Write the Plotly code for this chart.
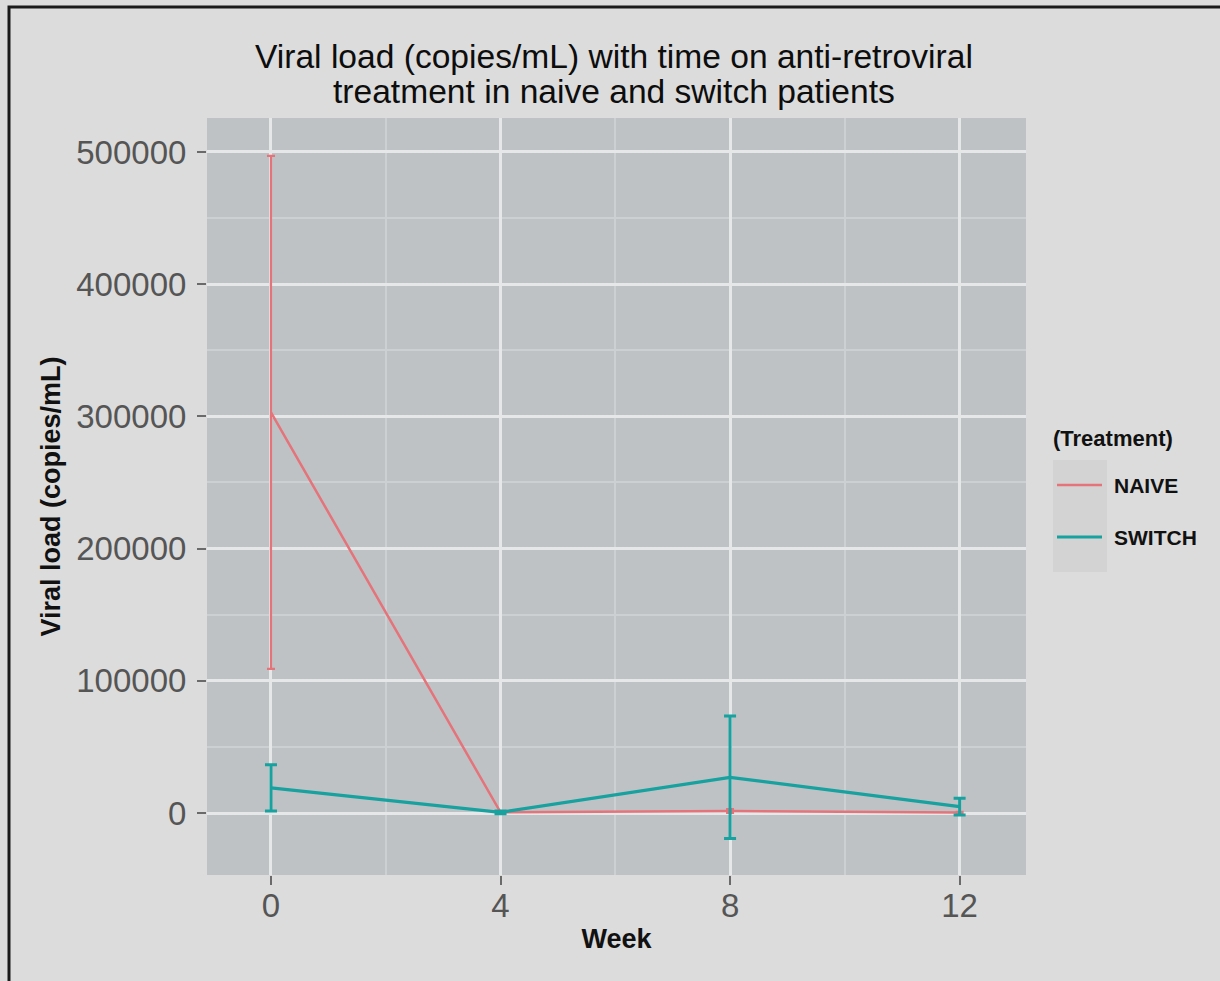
import plotly.graph_objects as go

# ---- data ----
weeks = [0, 4, 8, 12]
naive_mean = [303000, 500, 1500, 300]
naive_err = [194000, 800, 1500, 600]
switch_mean = [19000, 500, 27000, 4800]
switch_err = [17500, 1000, 46300, 6300]

series_names = ["NAIVE", "SWITCH"]
series_colors = ["#e5737a", "#17a19f"]

y_tickvals = [0, 100000, 200000, 300000, 400000, 500000]
x_tickvals = [0, 4, 8, 12]

title_lines = ["Viral load (copies/mL) with time on anti-retroviral",
               "treatment in naive and switch patients"]
x_title = "Week"
y_title = "Viral load (copies/mL)"
legend_title = "(Treatment)"

FONT = "Arial, 'Liberation Sans', sans-serif"

fig = go.Figure()

fig.add_trace(go.Scatter(
    x=weeks, y=naive_mean, mode="lines", name=series_names[0],
    line=dict(color=series_colors[0], width=2.5),
    error_y=dict(type="data", array=naive_err, visible=True,
                 color=series_colors[0], thickness=2.2, width=4),
    showlegend=False,
))
fig.add_trace(go.Scatter(
    x=weeks, y=switch_mean, mode="lines", name=series_names[1],
    line=dict(color=series_colors[1], width=3.2),
    error_y=dict(type="data", array=switch_err, visible=True,
                 color=series_colors[1], thickness=3, width=6),
    showlegend=False,
))

# plot area in pixels: x 207..1026, y 118..875
W, H = 1220, 981
L, R, T, B = 207, 194, 118, 106
pw, ph = W - L - R, H - T - B

def px_x(p):
    return (p - L) / pw

def px_y(p):
    return (H - B - p) / ph

shapes = []
# outer dark frame
shapes.append(dict(type="rect", xref="paper", yref="paper",
                   x0=px_x(9), x1=px_x(1240), y0=px_y(1000), y1=px_y(7),
                   line=dict(color="#1a1a1a", width=3), fillcolor="rgba(0,0,0,0)",
                   layer="below"))
# legend key background
shapes.append(dict(type="rect", xref="paper", yref="paper",
                   x0=px_x(1053), x1=px_x(1107), y0=px_y(572), y1=px_y(460),
                   line=dict(width=0), fillcolor="#d3d3d3", layer="below"))
annotations = []
# title (two lines, tight line spacing as in the reference)
for txt, yy in zip(title_lines, [57, 92]):
    annotations.append(dict(text=txt, xref="paper", yref="paper",
                            x=px_x(614), y=px_y(yy), xanchor="center", yanchor="middle",
                            showarrow=False,
                            font=dict(family=FONT, size=33.6, color="#0d0d0d")))
legend_rows = [485, 537]
for name, col, yy, lw in zip(series_names, series_colors, legend_rows, [2.6, 3.2]):
    shapes.append(dict(type="line", xref="paper", yref="paper",
                       x0=px_x(1057), x1=px_x(1102), y0=px_y(yy), y1=px_y(yy),
                       line=dict(color=col, width=lw)))
    annotations.append(dict(text="<b>%s</b>" % name, xref="paper", yref="paper",
                            x=px_x(1112), y=px_y(yy), xanchor="left", yanchor="middle",
                            showarrow=False, font=dict(family=FONT, size=21, color="#111")))
annotations.append(dict(text="<b>%s</b>" % legend_title, xref="paper", yref="paper",
                        x=px_x(1051), y=px_y(438), xanchor="left", yanchor="middle",
                        showarrow=False, font=dict(family=FONT, size=22, color="#111")))

fig.update_layout(
    width=W, height=H, autosize=False,
    margin=dict(l=L, r=R, t=T, b=B, pad=0),
    paper_bgcolor="#dcdcdc",
    plot_bgcolor="#bfc2c5",
    shapes=shapes,
    annotations=annotations,
    showlegend=False,
)

fig.update_xaxes(
    range=[-1.115, 13.157], tickvals=x_tickvals, ticks="outside", ticklen=9,
    tickwidth=2, tickcolor="#6a6a6a", showline=False, zeroline=False,
    showgrid=True, gridcolor="#e6e7e9", gridwidth=2.5,
    minor=dict(dtick=2, showgrid=True, gridcolor="#cdd0d3", gridwidth=1.5, ticks=""),
    tickfont=dict(family=FONT, size=33, color="#555"),
    ticklabelstandoff=-8,
    title=dict(text="<b>%s</b>" % x_title, standoff=6,
               font=dict(family=FONT, size=27, color="#111")),
)
fig.update_yaxes(
    range=[-46900, 525700], tickvals=y_tickvals, tickformat="d",
    ticks="outside", ticklen=9, tickwidth=2, tickcolor="#6a6a6a",
    showline=False, zeroline=False,
    showgrid=True, gridcolor="#e6e7e9", gridwidth=2.5,
    minor=dict(dtick=50000, showgrid=True, gridcolor="#cdd0d3", gridwidth=1.5, ticks=""),
    tickfont=dict(family=FONT, size=33, color="#555"),
    ticklabelstandoff=4,
    title=dict(text="<b>%s</b>" % y_title, standoff=7,
               font=dict(family=FONT, size=27, color="#111")),
)

fig.write_html("out.html")
